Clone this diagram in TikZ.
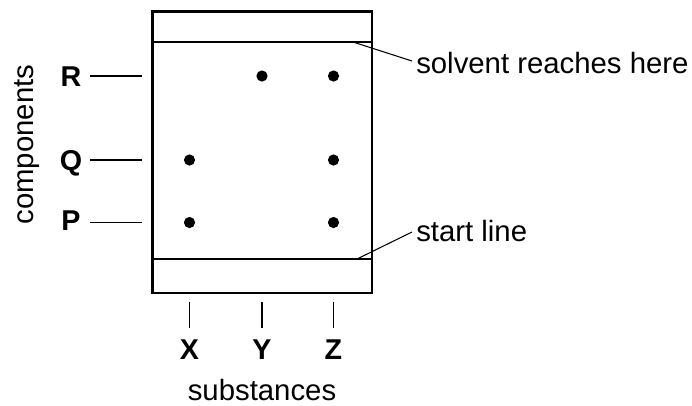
\documentclass[tikz,border=0pt]{standalone}
\usepackage{fontspec}
\setmainfont{Liberation Sans}
\usepackage{tikz}

\tikzset{
    spot/.style={shape=circle, fill=black, inner sep=0pt, minimum size=8.4pt},
    letter/.style={inner sep=0pt, anchor=base, font=\fontsize{21.5}{26}\selectfont\bfseries},
    word/.style={inner sep=0pt, font=\fontsize{22}{26}\selectfont},
    thin/.style={line width=0.8pt}
}

\begin{document}
\begin{tikzpicture}[x=0.75pt, y=-0.75pt]
        \useasboundingbox (0, 0) rectangle (692, 405);

        % the plate
        \draw[line width=2.2pt] (152.5, 11.5) rectangle (372, 293);
        \coordinate (S1) at (152.5, 42);
        \coordinate (S2) at (372, 42);
        \coordinate (B1) at (152.5, 259);
        \coordinate (B2) at (372, 259);
        \path [thin] (S1) edge (S2);
        \path [thin] (B1) edge (B2);

        % spots
        \node[spot] (Y3) at (262, 76) {};
        \node[spot] (Z3) at (333.5, 76) {};
        \node[spot] (X2) at (189.5, 160) {};
        \node[spot] (Z2) at (333.5, 160) {};
        \node[spot] (X1) at (189.5, 222.5) {};
        \node[spot] (Z1) at (333.5, 222.5) {};

        % components
        \node[letter] (R) at (71, 86) {R};
        \node[letter] (Q) at (71, 170) {Q};
        \node[letter] (P) at (71, 230) {P};
        \coordinate (Ra) at (90, 76);
        \coordinate (Rb) at (141.5, 76);
        \coordinate (Qa) at (90, 160);
        \coordinate (Qb) at (141.5, 160);
        \coordinate (Pa) at (90, 222.5);
        \coordinate (Pb) at (141.5, 222.5);
        \path [thin] (Ra) edge (Rb);
        \path [thin] (Qa) edge (Qb);
        \path [thin] (Pa) edge (Pb);
        \node[word, anchor=base, rotate=90] (comp) at (33, 144.5) {components};

        % substances
        \node[letter] (X) at (189.5, 359.5) {X};
        \node[letter] (Y) at (262, 359.5) {Y};
        \node[letter] (Z) at (333.5, 359.5) {Z};
        \coordinate (Xa) at (189.5, 301.5);
        \coordinate (Xb) at (189.5, 328);
        \coordinate (Ya) at (262, 301.5);
        \coordinate (Yb) at (262, 328);
        \coordinate (Za) at (333.5, 301.5);
        \coordinate (Zb) at (333.5, 328);
        \path [thin] (Xa) edge (Xb);
        \path [thin] (Ya) edge (Yb);
        \path [thin] (Za) edge (Zb);
        \node[word, anchor=base] (subs) at (262, 400.5) {substances};

        % labels on the right
        \node[word, anchor=base west] (solv) at (416, 73.5) {solvent reaches here};
        \node[word, anchor=base west] (start) at (416, 241) {start line};
        \coordinate (solvtip) at (353, 42);
        \coordinate (solvend) at (412, 61);
        \coordinate (starttip) at (358, 258.5);
        \coordinate (startend) at (412, 232);
        \path [thin] (solvtip) edge (solvend);
        \path [thin] (starttip) edge (startend);
    \end{tikzpicture}
\end{document}
